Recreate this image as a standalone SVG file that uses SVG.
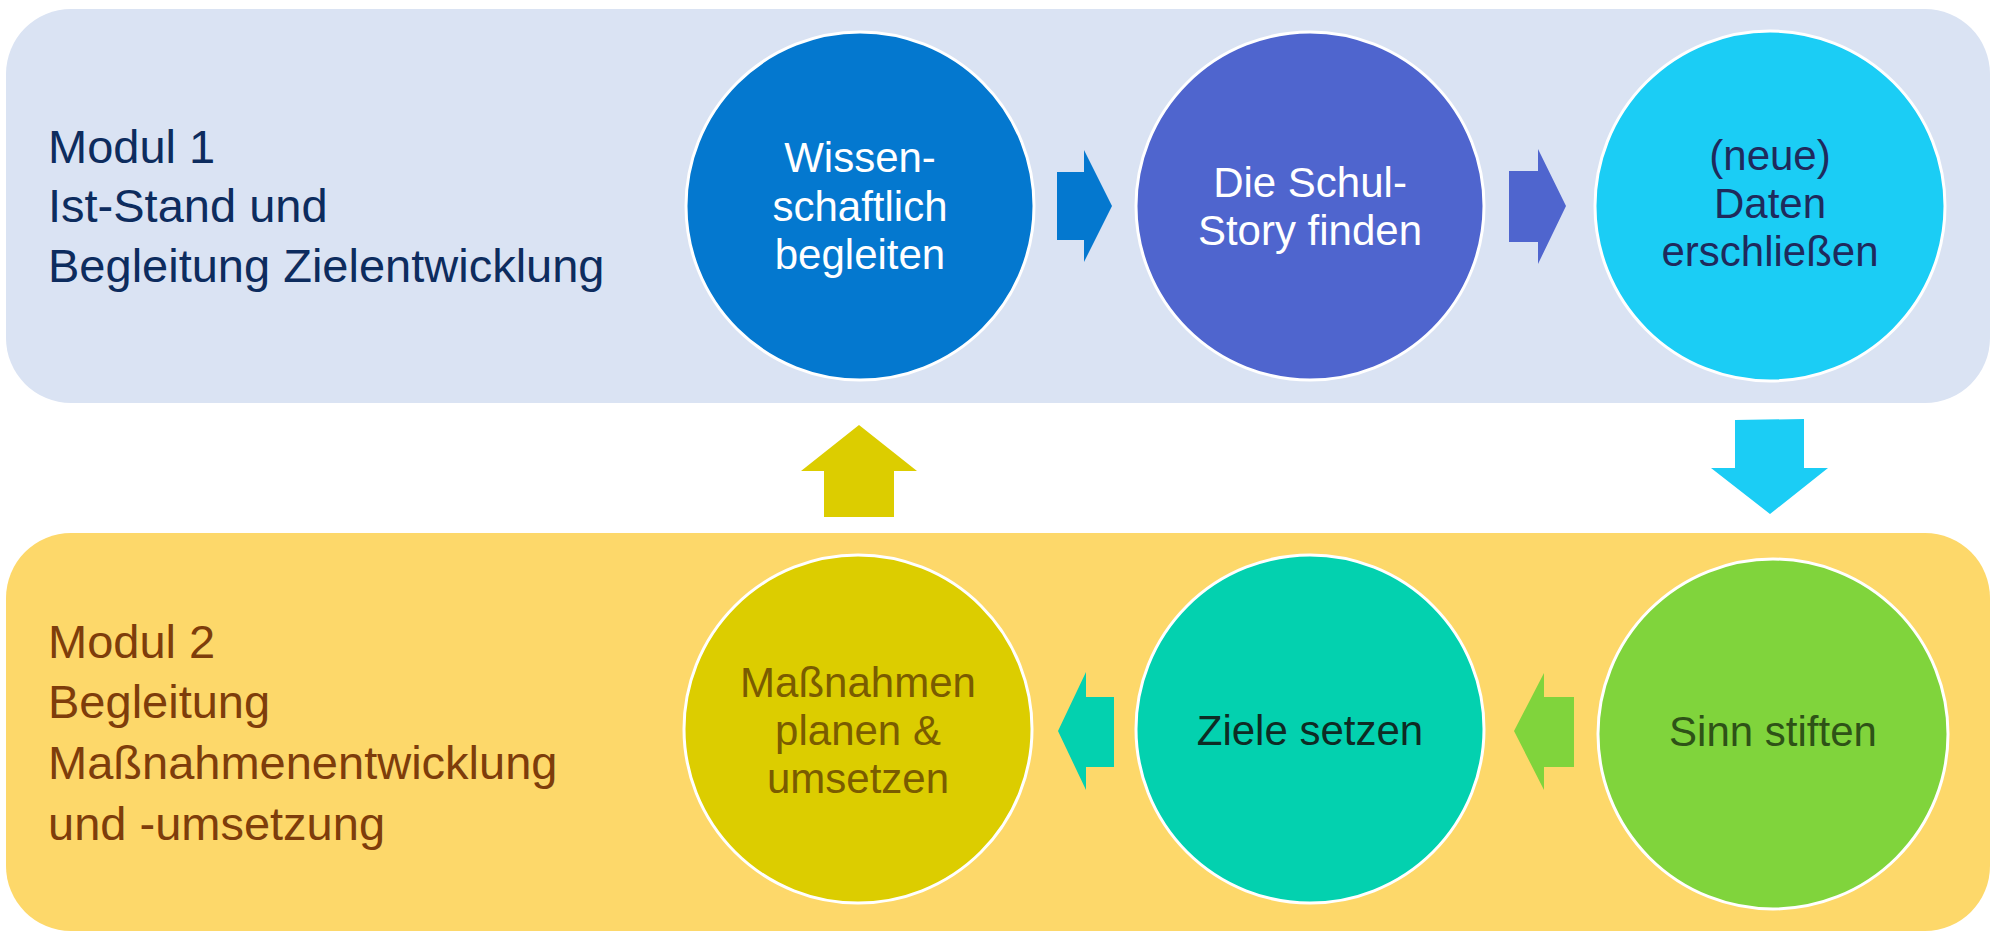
<svg xmlns="http://www.w3.org/2000/svg" width="2000" height="940" viewBox="0 0 2000 940">
<style>
.lbl{font-family:"Liberation Sans",Arial,sans-serif;font-size:47px}
.ct{font-family:"Liberation Sans",Arial,sans-serif;font-size:42px;text-anchor:middle}
.circ{stroke:#ffffff;stroke-width:3}
</style>
<rect width="2000" height="940" fill="#ffffff"/>
<g id="panel-modul1">
<rect x="6" y="9" width="1984" height="394" rx="65" fill="#DAE3F3"/>
<text class="lbl" fill="#0D2C5E"><tspan x="48" y="163">Modul 1</tspan><tspan x="48" y="222">Ist-Stand und</tspan><tspan x="48" y="282">Begleitung Zielentwicklung</tspan></text>
</g>
<g id="panel-modul2">
<rect x="6" y="533" width="1984" height="398" rx="65" fill="#FDD86A"/>
<text class="lbl" fill="#7E3D0B"><tspan x="48" y="658">Modul 2</tspan><tspan x="48" y="718">Begleitung</tspan><tspan x="48" y="779">Maßnahmenentwicklung</tspan><tspan x="48" y="840">und -umsetzung</tspan></text>
</g>
<g id="node-wissenschaftlich">
<circle class="circ" cx="860" cy="206" r="174" fill="#0478CF"/>
<text class="ct" fill="#ffffff"><tspan x="860" y="172">Wissen-</tspan><tspan x="860" y="221">schaftlich</tspan><tspan x="860" y="269">begleiten</tspan></text>
</g>
<g id="node-schulstory">
<circle class="circ" cx="1310" cy="206" r="174" fill="#4F65CE"/>
<text class="ct" fill="#ffffff"><tspan x="1310" y="197">Die Schul-</tspan><tspan x="1310" y="245">Story finden</tspan></text>
</g>
<g id="node-daten">
<circle class="circ" cx="1770" cy="206" r="175" fill="#1BCDF5"/>
<text class="ct" fill="#1F2A5C"><tspan x="1770" y="170">(neue)</tspan><tspan x="1770" y="218">Daten</tspan><tspan x="1770" y="266">erschließen</tspan></text>
</g>
<g id="node-sinn">
<circle class="circ" cx="1773" cy="734" r="175" fill="#80D43C"/>
<text class="ct" fill="#2E5217" x="1773" y="746">Sinn stiften</text>
</g>
<g id="node-ziele">
<circle class="circ" cx="1310" cy="729" r="174" fill="#03D1AF"/>
<text class="ct" fill="#0E2B24" x="1310" y="745">Ziele setzen</text>
</g>
<g id="node-massnahmen">
<circle class="circ" cx="858" cy="729" r="174" fill="#DCCD00"/>
<text class="ct" fill="#7A5C00"><tspan x="858" y="697">Maßnahmen</tspan><tspan x="858" y="745">planen &amp;</tspan><tspan x="858" y="793">umsetzen</tspan></text>
</g>
<g id="connectors">
<polygon fill="#0478CF" points="1057,172 1084,172 1084,150 1112,206 1084,262 1084,240 1057,240"/>
<polygon fill="#4F65CE" points="1509,171 1538,171 1538,149 1566,206 1538,264 1538,242 1509,242"/>
<polygon fill="#1BCDF5" points="1735,420 1804,419 1804,468 1828,468 1770,514 1711,468 1735,468"/>
<polygon fill="#80D43C" points="1574,697 1544,697 1544,673 1514,731 1544,790 1544,767 1574,767"/>
<polygon fill="#03D1AF" points="1114,697 1086,697 1086,672 1058,731 1086,790 1086,767 1114,767"/>
<polygon fill="#DCCD00" points="824,517 824,471 801,471 859,425 917,471 894,471 894,517"/>
</g>
</svg>
